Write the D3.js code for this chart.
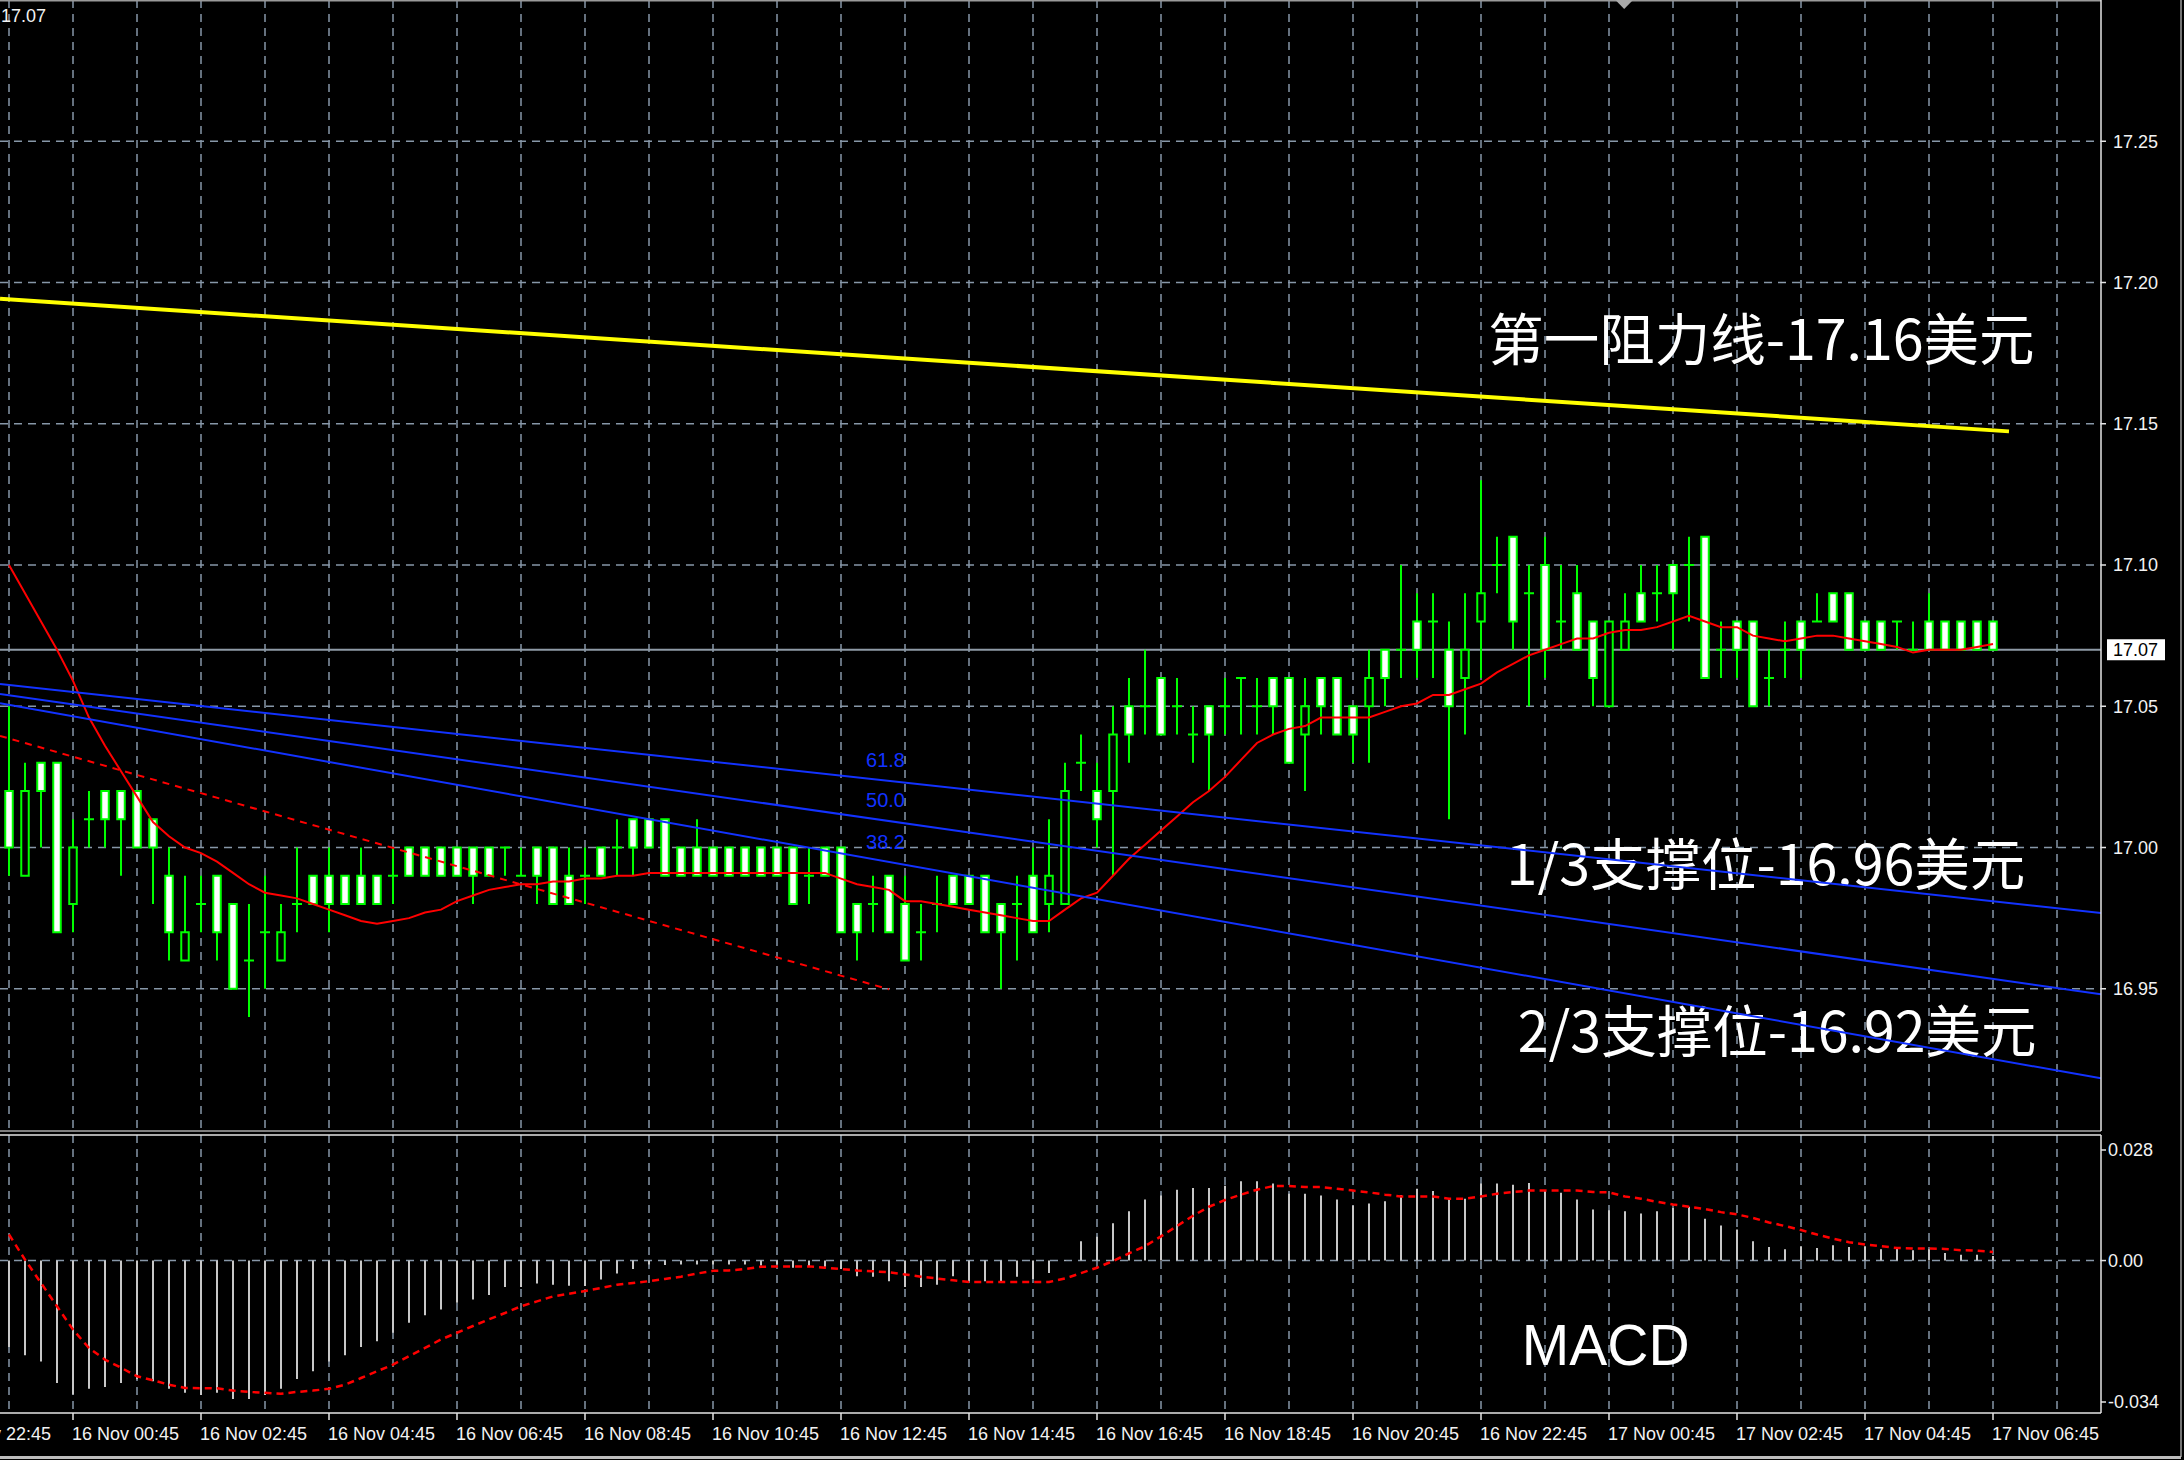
<!DOCTYPE html>
<html>
<head>
<meta charset="utf-8">
<script src="https://cdn.jsdelivr.net/npm/d3@7"></script>
<style>
  html, body { margin: 0; padding: 0; background: #000; }
  svg { display: block; }
</style>
</head>
<body>
<script>
// ---- XAGUSD M15 bars (bar 0 = 15 Nov 23:45, bar 124 = 17 Nov 06:45) ----
const open = [
  17.02,16.99,17.03,17.03,16.98,17.01,17.02,17.02,17.02,17.01,
  16.99,16.96,16.98,16.99,16.98,16.96,16.97,16.96,16.98,16.99,
  16.99,16.99,16.99,16.99,16.99,17.00,17.00,17.00,17.00,17.00,
  17.00,17.00,16.99,17.00,17.00,16.99,16.99,17.00,17.00,17.01,
  17.01,17.01,17.00,17.00,17.00,17.00,17.00,17.00,17.00,17.00,
  16.99,17.00,17.00,16.98,16.98,16.99,16.98,16.97,16.98,16.99,
  16.99,16.99,16.98,16.98,16.99,16.98,16.98,17.03,17.02,17.02,
  17.05,17.05,17.06,17.05,17.04,17.05,17.05,17.06,17.05,17.06,
  17.06,17.04,17.06,17.06,17.05,17.05,17.07,17.07,17.08,17.08,
  17.07,17.06,17.08,17.10,17.11,17.09,17.10,17.08,17.09,17.08,
  17.05,17.07,17.09,17.09,17.10,17.10,17.11,17.07,17.08,17.08,
  17.06,17.07,17.08,17.08,17.09,17.09,17.08,17.08,17.08,17.07,
  17.08,17.08,17.08,17.08,17.08
];
const high = [
  17.05,17.03,17.03,17.03,17.01,17.02,17.02,17.02,17.02,17.01,
  17.00,16.99,16.99,16.99,16.98,16.98,16.99,16.98,17.00,16.99,
  17.00,16.99,17.00,16.99,17.00,17.00,17.00,17.00,17.00,17.00,
  17.00,17.00,17.00,17.00,17.00,17.00,17.00,17.00,17.01,17.01,
  17.01,17.01,17.00,17.01,17.00,17.00,17.00,17.00,17.00,17.00,
  17.00,17.00,17.00,16.98,16.99,16.99,16.99,16.98,16.99,16.99,
  16.99,16.99,16.98,16.99,17.00,17.01,17.03,17.04,17.03,17.05,
  17.06,17.07,17.06,17.06,17.05,17.05,17.06,17.06,17.06,17.06,
  17.06,17.06,17.06,17.06,17.05,17.07,17.07,17.10,17.09,17.09,
  17.08,17.09,17.13,17.11,17.11,17.10,17.11,17.10,17.10,17.08,
  17.08,17.09,17.10,17.10,17.10,17.11,17.11,17.08,17.08,17.08,
  17.07,17.08,17.08,17.09,17.09,17.09,17.08,17.08,17.08,17.08,
  17.09,17.08,17.08,17.08,17.08
];
const low = [
  16.99,16.99,17.00,16.97,16.97,17.00,17.00,16.99,17.00,16.98,
  16.96,16.96,16.97,16.96,16.95,16.94,16.95,16.96,16.97,16.98,
  16.97,16.98,16.98,16.98,16.98,16.99,16.99,16.99,16.99,16.98,
  16.99,16.99,16.99,16.98,16.98,16.98,16.98,16.99,16.99,16.99,
  17.00,16.99,16.99,16.99,16.99,16.99,16.99,16.99,16.99,16.98,
  16.98,16.99,16.97,16.96,16.97,16.97,16.96,16.96,16.97,16.98,
  16.98,16.97,16.95,16.96,16.97,16.97,16.98,17.02,17.00,16.99,
  17.03,17.04,17.04,17.04,17.03,17.02,17.04,17.04,17.04,17.04,
  17.03,17.02,17.04,17.04,17.03,17.03,17.05,17.06,17.06,17.06,
  17.01,17.04,17.06,17.09,17.07,17.05,17.06,17.07,17.07,17.05,
  17.05,17.07,17.08,17.08,17.07,17.08,17.06,17.06,17.06,17.05,
  17.05,17.06,17.06,17.08,17.08,17.07,17.07,17.07,17.07,17.07,
  17.07,17.07,17.07,17.07,17.07
];
const close = [
  17.00,17.02,17.02,16.97,17.00,17.01,17.01,17.01,17.00,17.00,
  16.97,16.97,16.98,16.97,16.95,16.96,16.97,16.97,16.98,16.98,
  16.98,16.98,16.98,16.98,16.99,16.99,16.99,16.99,16.99,16.99,
  16.99,17.00,16.99,16.99,16.98,16.98,16.99,16.99,17.00,17.00,
  17.00,16.99,16.99,16.99,16.99,16.99,16.99,16.99,16.99,16.98,
  16.99,16.99,16.97,16.97,16.98,16.97,16.96,16.97,16.98,16.98,
  16.98,16.97,16.97,16.98,16.97,16.99,17.02,17.03,17.01,17.04,
  17.04,17.05,17.04,17.05,17.04,17.04,17.05,17.06,17.05,17.05,
  17.03,17.05,17.05,17.04,17.04,17.06,17.06,17.07,17.07,17.08,
  17.05,17.07,17.09,17.10,17.08,17.09,17.07,17.08,17.07,17.06,
  17.08,17.08,17.08,17.09,17.09,17.10,17.06,17.07,17.07,17.05,
  17.06,17.07,17.07,17.08,17.08,17.07,17.07,17.07,17.08,17.07,
  17.07,17.07,17.07,17.07,17.07
];

// Moving average overlay (red)
const movingAvg = [
  17.100,17.090,17.080,17.070,17.059,17.046,17.036,17.027,17.018,17.009,
  17.004,17.000,16.998,16.995,16.991,16.987,16.984,16.983,16.982,16.980,
  16.978,16.976,16.974,16.973,16.974,16.975,16.977,16.978,16.981,16.983,
  16.985,16.986,16.987,16.987,16.988,16.988,16.989,16.989,16.990,16.990,
  16.991,16.991,16.991,16.991,16.991,16.991,16.991,16.991,16.991,16.991,
  16.991,16.991,16.989,16.987,16.986,16.985,16.981,16.981,16.980,16.979,
  16.978,16.977,16.976,16.975,16.974,16.974,16.978,16.982,16.984,16.990,
  16.996,17.001,17.006,17.011,17.016,17.020,17.025,17.031,17.037,17.040,
  17.042,17.043,17.046,17.046,17.046,17.046,17.048,17.050,17.051,17.054,
  17.054,17.056,17.058,17.062,17.065,17.068,17.070,17.072,17.074,17.074,
  17.076,17.077,17.077,17.078,17.080,17.082,17.080,17.078,17.078,17.075,
  17.074,17.073,17.074,17.075,17.075,17.074,17.073,17.072,17.071,17.069,
  17.070,17.070,17.070,17.071,17.072
];

// MACD main (histogram) and signal
const macdMain = [
  -0.0193,-0.0211,-0.0225,-0.0273,-0.0299,-0.0286,-0.0282,-0.0273,-0.0265,-0.0269,
  -0.0286,-0.0295,-0.0300,-0.0295,-0.0309,-0.0309,-0.0300,-0.0286,-0.0264,-0.0247,
  -0.0225,-0.0211,-0.0193,-0.0180,-0.0161,-0.0139,-0.0122,-0.0109,-0.0094,-0.0087,
  -0.0077,-0.0059,-0.0059,-0.0051,-0.0054,-0.0056,-0.0057,-0.0042,-0.0029,-0.0019,
  -0.0009,-0.0010,-0.0009,-0.0009,-0.0009,-0.0009,-0.0009,-0.0011,-0.0009,-0.0016,
  -0.0013,-0.0014,-0.0019,-0.0035,-0.0036,-0.0046,-0.0059,-0.0059,-0.0054,-0.0035,
  -0.0046,-0.0046,-0.0046,-0.0036,-0.0041,-0.0028, 0.0001, 0.0043, 0.0053, 0.0083,
   0.0110, 0.0136, 0.0145, 0.0158, 0.0162, 0.0162, 0.0167, 0.0177, 0.0177, 0.0172,
   0.0149, 0.0149, 0.0145, 0.0136, 0.0123, 0.0127, 0.0132, 0.0146, 0.0160, 0.0155,
   0.0138, 0.0138, 0.0172, 0.0172, 0.0169, 0.0173, 0.0156, 0.0151, 0.0136, 0.0114,
   0.0112, 0.0110, 0.0105, 0.0110, 0.0117, 0.0120, 0.0093, 0.0078, 0.0069, 0.0043,
   0.0030, 0.0025, 0.0032, 0.0028, 0.0034, 0.0030, 0.0032, 0.0025, 0.0026, 0.0023,
   0.0025, 0.0017, 0.0013, 0.0013, 0.0010
];
const macdSignal = [
   0.0058, 0.0002,-0.0050,-0.0102,-0.0154,-0.0195,-0.0221,-0.0239,-0.0258,-0.0267,
  -0.0277,-0.0284,-0.0285,-0.0285,-0.0290,-0.0293,-0.0295,-0.0297,-0.0293,-0.0290,
  -0.0286,-0.0277,-0.0262,-0.0247,-0.0232,-0.0213,-0.0195,-0.0176,-0.0161,-0.0146,
  -0.0131,-0.0117,-0.0102,-0.0091,-0.0080,-0.0074,-0.0068,-0.0061,-0.0054,-0.0050,
  -0.0046,-0.0041,-0.0036,-0.0029,-0.0023,-0.0022,-0.0019,-0.0014,-0.0013,-0.0013,
  -0.0013,-0.0016,-0.0019,-0.0022,-0.0024,-0.0026,-0.0031,-0.0036,-0.0040,-0.0044,
  -0.0048,-0.0048,-0.0048,-0.0048,-0.0048,-0.0048,-0.0040,-0.0028,-0.0016,-0.0001,
   0.0016, 0.0032, 0.0054, 0.0077, 0.0100, 0.0120, 0.0135, 0.0147, 0.0158, 0.0166,
   0.0166, 0.0164, 0.0164, 0.0160, 0.0156, 0.0152, 0.0147, 0.0143, 0.0143, 0.0143,
   0.0138, 0.0138, 0.0143, 0.0149, 0.0153, 0.0156, 0.0156, 0.0156, 0.0156, 0.0153,
   0.0152, 0.0143, 0.0138, 0.0131, 0.0125, 0.0120, 0.0115, 0.0108, 0.0103, 0.0095,
   0.0085, 0.0077, 0.0068, 0.0058, 0.0049, 0.0041, 0.0036, 0.0032, 0.0028, 0.0027,
   0.0027, 0.0026, 0.0023, 0.0022, 0.0019
];

// Time axis labels, one every 8 bars starting at bar -4
const timeLabels = [
  "15 Nov 22:45","16 Nov 00:45","16 Nov 02:45","16 Nov 04:45","16 Nov 06:45",
  "16 Nov 08:45","16 Nov 10:45","16 Nov 12:45","16 Nov 14:45","16 Nov 16:45",
  "16 Nov 18:45","16 Nov 20:45","16 Nov 22:45","17 Nov 00:45","17 Nov 02:45",
  "17 Nov 04:45","17 Nov 06:45"
];
const priceTicks = [16.95, 17.00, 17.05, 17.10, 17.15, 17.20, 17.25];
const macdTicks = [0.028, 0.00, -0.034];
const bidPrice = 17.07;

// Drawn objects: trendlines as [bar, price] anchor pairs
const resistanceLine = [[0, 17.1940], [125, 17.1473]];
const dashedTrend    = [[0, 17.0386], [55, 16.9498]];
const fanLevels = ["61.8", "50.0", "38.2"];
const fanStart  = [17.0575, 17.0539, 17.0505];   // price at bar 0
const fanEnd    = [16.9810, 16.9535, 16.9251];   // price at bar 124

const notes = [
  { text: "第一阻力线-17.16美元", bar: 92.45, price: 17.1726 },
  { text: "1/3支撑位-16.96美元",  bar: 93.6,  price: 16.9868 },
  { text: "2/3支撑位-16.92美元",  bar: 94.3,  price: 16.9276 }
];

// ---- layout ----
const W = 2184, H = 1460;
const plotL = 0, plotR = 2101;
const mainT = 0, mainB = 1130;
const macdT = 1135, macdB = 1413;

const GREEN = "#00ff00", GRID = "#8797a8", AXIS = "#e4e4e4", FONT = "'Liberation Sans', Arial, sans-serif";

const x = d3.scaleLinear().domain([0, 124]).range([9, 1993]);
const y = d3.scaleLinear().domain([16.90, 17.30]).range([mainB, mainT]);
const ym = d3.scaleLinear().domain([-0.034, 0.028]).range([macdB, macdT]);

const svg = d3.select("body").append("svg")
  .attr("width", W).attr("height", H)
  .attr("viewBox", `0 0 ${W} ${H}`);

svg.append("rect").attr("width", W).attr("height", H).attr("fill", "#000");

const defs = svg.append("defs");
defs.append("clipPath").attr("id", "clipMain")
  .append("rect").attr("x", plotL).attr("y", mainT).attr("width", plotR - plotL).attr("height", mainB - mainT);
defs.append("clipPath").attr("id", "clipMacd")
  .append("rect").attr("x", plotL).attr("y", macdT).attr("width", plotR - plotL).attr("height", macdB - macdT);

const gMain = svg.append("g").attr("clip-path", "url(#clipMain)");
const gMacd = svg.append("g").attr("clip-path", "url(#clipMacd)");

// ---- grid ----
const gridBars = d3.range(0, 129, 4);
function vGrid(g, top, bottom) {
  g.selectAll(null).data(gridBars).join("line")
    .attr("x1", d => x(d)).attr("x2", d => x(d))
    .attr("y1", top).attr("y2", bottom)
    .attr("stroke", GRID).attr("stroke-width", 1.5).attr("stroke-dasharray", "8,6");
}
vGrid(gMain, mainT, mainB);
vGrid(gMacd, macdT, macdB);

gMain.selectAll(null).data(priceTicks).join("line")
  .attr("x1", plotL).attr("x2", plotR)
  .attr("y1", d => y(d)).attr("y2", d => y(d))
  .attr("stroke", GRID).attr("stroke-width", 1.5).attr("stroke-dasharray", "8,6");

gMacd.append("line")
  .attr("x1", plotL).attr("x2", plotR).attr("y1", ym(0)).attr("y2", ym(0))
  .attr("stroke", GRID).attr("stroke-width", 1.5).attr("stroke-dasharray", "8,6");

// ---- bid line ----
gMain.append("line")
  .attr("x1", plotL).attr("x2", plotR).attr("y1", y(bidPrice)).attr("y2", y(bidPrice))
  .attr("stroke", "#8f9ba7").attr("stroke-width", 2);

// ---- text notes ----
gMain.selectAll("text.note").data(notes).join("text")
  .attr("class", "note")
  .attr("x", d => x(d.bar)).attr("y", d => y(d.price))
  .attr("fill", "#ffffff")
  .attr("font-family", "'Noto Sans CJK SC', 'Noto Sans', sans-serif")
  .attr("font-size", 55.5)
  .text(d => d.text);

// ---- candles ----
const bars = d3.range(open.length).map(i => ({
  i, o: open[i], h: high[i], l: low[i], c: close[i]
}));

const candle = gMain.append("g").selectAll("g").data(bars).join("g");

candle.append("line")
  .attr("x1", d => x(d.i)).attr("x2", d => x(d.i))
  .attr("y1", d => y(d.h)).attr("y2", d => y(d.l))
  .attr("stroke", GREEN).attr("stroke-width", 2);

candle.filter(d => d.o !== d.c).append("rect")
  .attr("x", d => x(d.i) - 3.75).attr("width", 7.5)
  .attr("y", d => y(Math.max(d.o, d.c)))
  .attr("height", d => y(Math.min(d.o, d.c)) - y(Math.max(d.o, d.c)))
  .attr("fill", d => d.c > d.o ? "#000000" : "#ffffff")
  .attr("stroke", GREEN).attr("stroke-width", 2);

candle.filter(d => d.o === d.c).append("line")
  .attr("x1", d => x(d.i) - 5).attr("x2", d => x(d.i) + 5)
  .attr("y1", d => y(d.o)).attr("y2", d => y(d.o))
  .attr("stroke", GREEN).attr("stroke-width", 2);

// ---- moving average ----
gMain.append("path")
  .datum(movingAvg)
  .attr("d", d3.line().x((d, i) => x(i)).y(d => y(d)))
  .attr("fill", "none").attr("stroke", "#ff0000").attr("stroke-width", 2);

// ---- trendlines ----
const leftBar = x.invert(plotL), rightBar = x.invert(plotR);
function priceAt(a, b, bar) {
  return a[1] + (b[1] - a[1]) * (bar - a[0]) / (b[0] - a[0]);
}
function segment(a, b, fromBar, toBar) {
  return [[fromBar, priceAt(a, b, fromBar)], [toBar, priceAt(a, b, toBar)]];
}
const lineGen = d3.line().x(d => x(d[0])).y(d => y(d[1]));

gMain.append("path")
  .attr("d", lineGen(segment(resistanceLine[0], resistanceLine[1], leftBar, resistanceLine[1][0])))
  .attr("fill", "none").attr("stroke", "#ffff00").attr("stroke-width", 4);

gMain.append("path")
  .attr("d", lineGen(segment(dashedTrend[0], dashedTrend[1], leftBar, dashedTrend[1][0])))
  .attr("fill", "none").attr("stroke", "#ff0000").attr("stroke-width", 2)
  .attr("stroke-dasharray", "7,6");

const fan = fanLevels.map((lv, i) => ({ lv, a: [0, fanStart[i]], b: [124, fanEnd[i]] }));
gMain.selectAll("path.fan").data(fan).join("path")
  .attr("class", "fan")
  .attr("d", d => lineGen(segment(d.a, d.b, leftBar, rightBar)))
  .attr("fill", "none").attr("stroke", "#1232ff").attr("stroke-width", 2);

const fanLabelBar = 56;
gMain.selectAll("text.fan").data(fan).join("text")
  .attr("class", "fan")
  .attr("x", x(fanLabelBar)).attr("y", d => y(priceAt(d.a, d.b, fanLabelBar)) - 16)
  .attr("text-anchor", "end")
  .attr("fill", "#1232ff").attr("font-family", FONT).attr("font-size", 20)
  .text(d => d.lv);

// ---- MACD pane ----
gMacd.selectAll("line.hist").data(macdMain).join("line")
  .attr("class", "hist")
  .attr("x1", (d, i) => x(i)).attr("x2", (d, i) => x(i))
  .attr("y1", ym(0)).attr("y2", d => ym(d))
  .attr("stroke", "#c8c8c8").attr("stroke-width", 2);

gMacd.append("path")
  .datum(macdSignal)
  .attr("d", d3.line().x((d, i) => x(i)).y(d => ym(d)))
  .attr("fill", "none").attr("stroke", "#ff0000").attr("stroke-width", 2.5)
  .attr("stroke-dasharray", "7,5");

gMacd.append("text")
  .attr("x", x(94.55)).attr("y", ym(-0.0233))
  .attr("fill", "#ffffff").attr("font-family", FONT).attr("font-size", 57)
  .text("MACD");

// ---- frames and axes ----
const frame = svg.append("g").attr("stroke-width", 1.5).attr("fill", "none");
frame.append("line").attr("x1", 0).attr("x2", plotR).attr("y1", 0.75).attr("y2", 0.75).attr("stroke", "#9a9a9a");
frame.append("line").attr("x1", 0).attr("x2", plotR).attr("y1", mainB + 1).attr("y2", mainB + 1).attr("stroke", "#a8a8a8");
frame.append("line").attr("x1", 0).attr("x2", plotR).attr("y1", macdT).attr("y2", macdT).attr("stroke", AXIS);
frame.append("line").attr("x1", 0).attr("x2", plotR).attr("y1", macdB).attr("y2", macdB).attr("stroke", AXIS);
frame.append("line").attr("x1", plotR).attr("x2", plotR).attr("y1", 0).attr("y2", mainB + 1).attr("stroke", AXIS);
frame.append("line").attr("x1", plotR).attr("x2", plotR).attr("y1", macdT).attr("y2", macdB).attr("stroke", AXIS);
frame.append("line").attr("x1", 2181).attr("x2", 2181).attr("y1", 0).attr("y2", 1457).attr("stroke", "#9a9a9a");
frame.append("line").attr("x1", 0).attr("x2", 2181).attr("y1", 1457.5).attr("y2", 1457.5).attr("stroke", "#bdbdbd").attr("stroke-width", 3);

// chart shift marker
svg.append("path")
  .attr("d", d3.line()([[x(100.4), 0], [x(101.5), 0], [x(100.95), 9]]) + "Z")
  .attr("fill", "#a9a9a9");

// price axis
const pAxis = svg.append("g");
pAxis.selectAll("line").data(priceTicks).join("line")
  .attr("x1", plotR).attr("x2", plotR + 5).attr("y1", d => y(d)).attr("y2", d => y(d))
  .attr("stroke", AXIS).attr("stroke-width", 1.5);
pAxis.selectAll("text").data(priceTicks).join("text")
  .attr("x", plotR + 12).attr("y", d => y(d)).attr("dy", "0.36em")
  .attr("fill", "#f2f2f2").attr("font-family", FONT).attr("font-size", 18)
  .text(d => d3.format(".2f")(d));

// current price box
svg.append("rect")
  .attr("x", plotR + 6).attr("y", y(bidPrice) - 10.5).attr("width", 58).attr("height", 21)
  .attr("fill", "#ffffff");
svg.append("text")
  .attr("x", plotR + 12).attr("y", y(bidPrice)).attr("dy", "0.36em")
  .attr("fill", "#000").attr("font-family", FONT).attr("font-size", 18)
  .text(d3.format(".2f")(bidPrice));

// MACD axis
const mAxis = svg.append("g");
const macdLabelY = d => d === macdTicks[0] ? ym(d) + 15 : (d === macdTicks[2] ? ym(d) - 11 : ym(d));
mAxis.selectAll("line").data(macdTicks).join("line")
  .attr("x1", plotR).attr("x2", plotR + 5).attr("y1", macdLabelY).attr("y2", macdLabelY)
  .attr("stroke", AXIS).attr("stroke-width", 1.5);
mAxis.selectAll("text").data(macdTicks).join("text")
  .attr("x", plotR + 7).attr("y", macdLabelY).attr("dy", "0.36em")
  .attr("fill", "#f2f2f2").attr("font-family", FONT).attr("font-size", 18)
  .text(d => d === 0 ? "0.00" : String(d));

// time axis
const tAxis = svg.append("g");
const labelBars = timeLabels.map((t, i) => ({ t, bar: -4 + 8 * i }));
tAxis.selectAll("line").data(labelBars).join("line")
  .attr("x1", d => x(d.bar)).attr("x2", d => x(d.bar))
  .attr("y1", macdB).attr("y2", macdB + 7)
  .attr("stroke", AXIS).attr("stroke-width", 1.5);
tAxis.selectAll("text").data(labelBars).join("text")
  .attr("x", d => x(d.bar) - 1).attr("y", 1440)
  .attr("fill", "#f2f2f2").attr("font-family", FONT).attr("font-size", 18)
  .text(d => d.t);

// symbol price readout, top-left
svg.append("text")
  .attr("x", 1).attr("y", 22)
  .attr("fill", "#f2f2f2").attr("font-family", FONT).attr("font-size", 18)
  .text("17.07");
</script>
</body>
</html>
